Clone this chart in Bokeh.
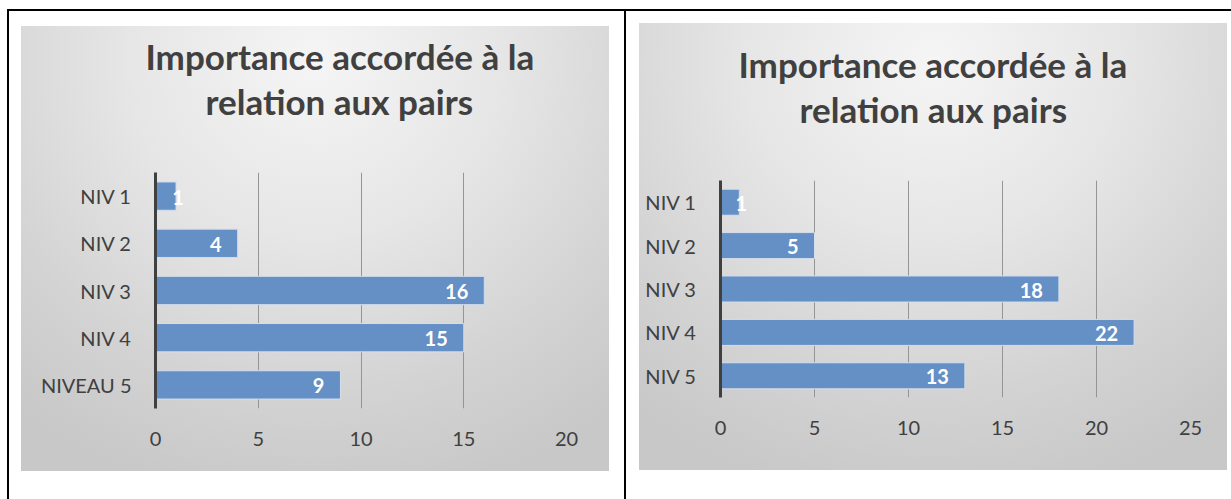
from bokeh.plotting import figure
from bokeh.models import (Range1d, FactorRange, FixedTicker, Title, Spacer, Row, Column,
                          ColumnDataSource)
from bokeh.embed import file_html
from bokeh.resources import INLINE
from bokeh.core.properties import value

# ---------------- data ----------------
categories_left = ["NIV 1", "NIV 2", "NIV 3", "NIV 4", "NIVEAU 5"]
values_left = [1, 4, 16, 15, 9]
ticks_left = [0, 5, 10, 15, 20]

categories_right = ["NIV 1", "NIV 2", "NIV 3", "NIV 4", "NIV 5"]
values_right = [1, 5, 18, 22, 13]
ticks_right = [0, 5, 10, 15, 20, 25]

title_lines = ["Importance accordée à la", "relation aux pairs"]

FONT = "Lato"
TEXT_COLOR = "#404040"
BAR_COLOR = "#6590c6"
B_TOP, B_BOTTOM = 157, 91   # shared border sizes (row aligns plot frames)


def bg(w, h, dy):
    return ("radial-gradient(ellipse 80% 100% at 50% 8%, #f5f5f5 0%, #e6e6e6 40%, "
            f"#d3d3d3 75%, #c8c8c8 100%) 0 {dy}px / {w}px {h}px no-repeat")


def make_chart(cats, vals, ticks, width, frame_h, box_h, box_dy, bl, br,
               off1, off2):
    height = B_TOP + frame_h + B_BOTTOM
    p = figure(width=width, height=height, title=None,
               y_range=FactorRange(factors=list(reversed(cats))),
               x_range=Range1d(ticks[0], ticks[-1]),
               output_backend="svg", toolbar_location=None,
               min_border_left=bl, min_border_right=br,
               min_border_top=B_TOP, min_border_bottom=B_BOTTOM,
               border_fill_color=None, background_fill_color=None,
               outline_line_color=None)
    p.styles = {"background": bg(width, box_h, box_dy)}

    px_per_unit = (width - bl - br) / (ticks[-1] - ticks[0])
    aligns = ["center" if v * px_per_unit < 40 else "right" for v in vals]
    offs = [2 if a == "center" else -16 for a in aligns]
    src = ColumnDataSource(dict(cat=cats, val=vals, lab=[str(v) for v in vals],
                                align=aligns, off=offs))

    p.hbar(y="cat", left=0, right="val", height=0.6, source=src,
           fill_color=BAR_COLOR, line_color="#d4deec", line_width=1)
    p.text(x="val", y="cat", text="lab", source=src, text_align="align",
           x_offset="off", y_offset=1, text_baseline="middle",
           text_color="white", text_font=value(FONT), text_font_style="bold",
           text_font_size="20px")

    xa = p.below[0]
    xa.ticker = FixedTicker(ticks=ticks)
    xa.axis_line_color = None
    xa.major_tick_line_color = None
    xa.minor_tick_line_color = None
    xa.major_label_standoff = 17
    xa.major_label_text_font = FONT
    xa.major_label_text_font_size = "20px"
    xa.major_label_text_color = TEXT_COLOR

    ya = p.left[0]
    ya.axis_line_color = "#404040"
    ya.axis_line_width = 3
    ya.major_tick_line_color = None
    ya.minor_tick_line_color = None
    ya.major_label_standoff = 18
    ya.major_label_text_font = FONT
    ya.major_label_text_font_size = "20px"
    ya.major_label_text_color = TEXT_COLOR

    p.xgrid.grid_line_color = "#959595"
    p.xgrid.grid_line_width = 1
    p.ygrid.grid_line_color = None

    # spacing panel between the frame and the title (blank title, 10px font)
    gap = Title(text=" ", text_font=FONT, text_font_size="10px", standoff=37)
    p.add_layout(gap, "above")

    # titles (inner line first, outer line added last)
    t2 = Title(text=title_lines[1], align="left", offset=off2,
               text_font=FONT, text_font_size="35px", text_font_style="bold",
               text_color=TEXT_COLOR, standoff=0)
    t1 = Title(text=title_lines[0], align="left", offset=off1,
               text_font=FONT, text_font_size="35px", text_font_style="bold",
               text_color=TEXT_COLOR, standoff=2)
    p.add_layout(t2, "above")
    p.add_layout(t1, "above")
    return p


# left chart: box 588x445 at (21,26); frame x 155.5..566.5, y 172..408
left = make_chart(categories_left, values_left, ticks_left, 588, 236, 445, 11,
                  134, 43, -10, 50)
left.margin = (4, 0, 0, 0)      # figure top at y=15
# right chart: box 588x447 at (639,23); frame x 720..1190, y 180..397
right = make_chart(categories_right, values_right, ticks_right, 588, 217, 447, 0,
                   81, 37, 18, 79)
right.margin = (12, 0, 0, 0)    # figure top at y=23

BLACK = {"background-color": "black"}
H = 488
top_line = Row(children=[Spacer(width=7, height=2),
                         Spacer(width=1224, height=2, styles=BLACK)], spacing=0)
cells = Row(children=[
    Spacer(width=7, height=H),
    Spacer(width=2, height=H, styles=BLACK),
    Spacer(width=12, height=H),
    left,
    Spacer(width=15, height=H),
    Spacer(width=2, height=H, styles=BLACK),
    Spacer(width=13, height=H),
    right,
], spacing=0)

page = Column(children=[
    Spacer(width=1231, height=9),
    top_line,
    cells,
], spacing=0)

open("out.html", "w").write(file_html(page, INLINE))
